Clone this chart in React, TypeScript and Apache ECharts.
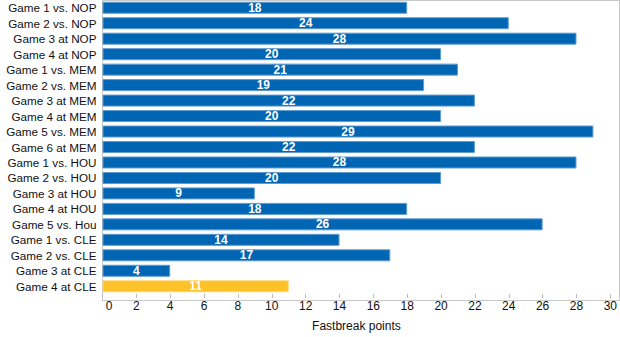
import React, { useEffect, useRef } from "react";
import * as echarts from "echarts";

const categories = [
  "Game 1 vs. NOP", "Game 2 vs. NOP", "Game 3 at NOP", "Game 4 at NOP",
  "Game 1 vs. MEM", "Game 2 vs. MEM", "Game 3 at MEM", "Game 4 at MEM",
  "Game 5 vs. MEM", "Game 6 at MEM", "Game 1 vs. HOU", "Game 2 vs. HOU",
  "Game 3 at HOU", "Game 4 at HOU", "Game 5 vs. Hou", "Game 1 vs. CLE",
  "Game 2 vs. CLE", "Game 3 at CLE", "Game 4 at CLE",
];
const values = [18, 24, 28, 20, 21, 19, 22, 20, 29, 22, 28, 20, 9, 18, 26, 14, 17, 4, 11];
const highlightIndex = [18];

const FONT = "'Liberation Sans', Arial, sans-serif";

export default function App() {
  const ref = useRef<HTMLDivElement>(null);
  useEffect(() => {
    const chart = echarts.init(ref.current!, undefined, { renderer: "svg" });
    chart.setOption({
      animation: false,
      textStyle: { fontFamily: FONT },
      grid: { left: 102.5, right: 9, top: 0, bottom: 37, containLabel: false },
      xAxis: {
        type: "value",
        min: 0,
        max: 30,
        interval: 2,
        name: "Fastbreak points",
        nameLocation: "middle",
        nameGap: 26,
        nameTextStyle: { color: "#111", fontSize: 12, fontFamily: FONT },
        axisLine: { show: false },
        axisTick: { show: true, length: 4, lineStyle: { color: "#bbb" } },
        axisLabel: {
          color: "#111", fontSize: 12, margin: 6, fontFamily: FONT,
          alignMinLabel: "left", padding: [0, 0, 0, 0],
          formatter: (v: number) => (v === 0 ? " 0" : String(v)),
        },
        splitLine: { show: false },
      },
      yAxis: {
        type: "category",
        data: categories,
        inverse: true,
        axisLine: { show: false },
        axisTick: { show: false },
        axisLabel: { color: "#111", fontSize: 11.7, margin: 6, interval: 0, fontFamily: FONT },
      },
      graphic: [
        { type: "line", shape: { x1: 102.5, y1: 0, x2: 102.5, y2: 300 }, style: { stroke: "#c8c8c8", lineWidth: 1 } },
        { type: "line", shape: { x1: 102, y1: 300.5, x2: 620, y2: 300.5 }, style: { stroke: "#c8c8c8", lineWidth: 1 } },
        { type: "line", shape: { x1: 102, y1: 0.5, x2: 620, y2: 0.5 }, style: { stroke: "#c8c8c8", lineWidth: 1 } },
        { type: "line", shape: { x1: 619.5, y1: 0, x2: 619.5, y2: 300 }, style: { stroke: "#c8c8c8", lineWidth: 1 } },
      ],
      series: [
        {
          type: "bar",
          barWidth: 12,
          data: values.map((v, i) => ({
            value: v,
            itemStyle: {
              color: highlightIndex.includes(i) ? "#fdc12a" : "#0066b3",
              borderColor: highlightIndex.includes(i) ? "#fed77a" : "#5f9bd0",
              borderWidth: 1,
            },
          })),
          label: {
            show: true,
            position: "inside",
            color: "#fff",
            fontWeight: "bold",
            fontSize: 12,
            fontFamily: FONT,
          },
        },
      ],
    });
    return () => chart.dispose();
  }, []);
  return <div ref={ref} style={{ width: 620, height: 337, position: "absolute", left: 0, top: 0 }} />;
}
